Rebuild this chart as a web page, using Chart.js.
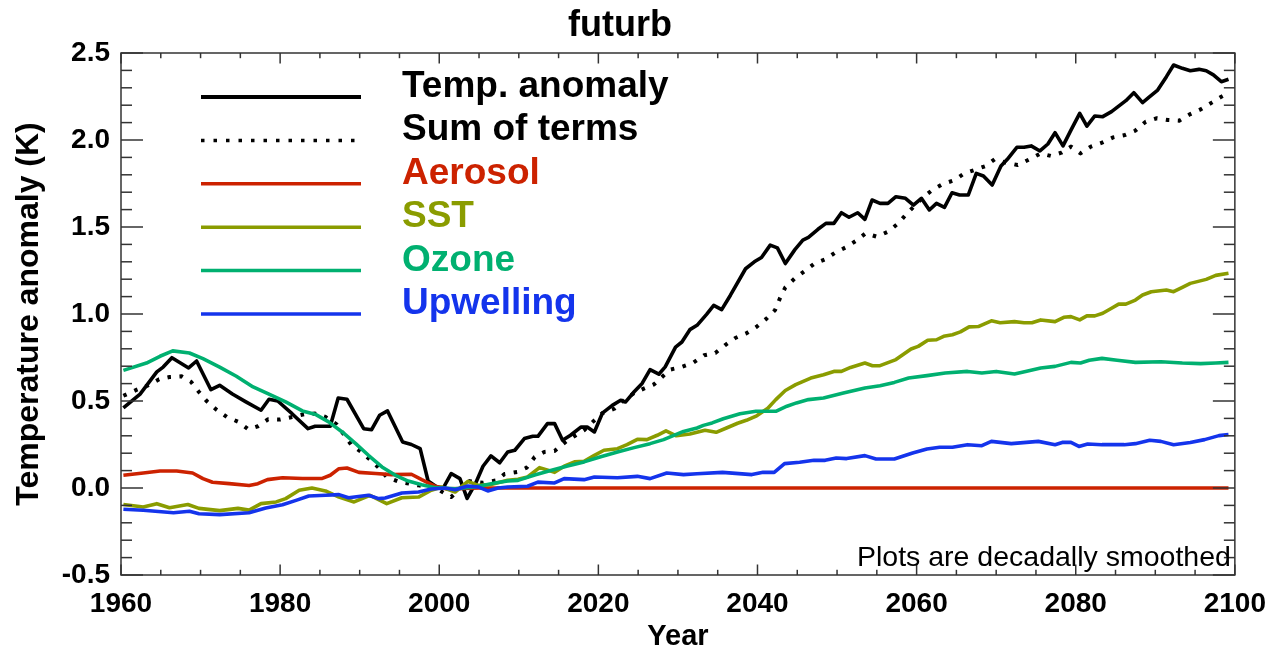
<!DOCTYPE html>
<html><head><meta charset="utf-8">
<script src="https://cdn.jsdelivr.net/npm/chart.js@4.4.1/dist/chart.umd.min.js"></script>
<style>html,body{margin:0;padding:0;background:#fff;}canvas{display:block;}</style>
</head><body>
<canvas id="c" width="1278" height="651"></canvas>
<script>
const FONT = "'Liberation Sans', Arial, Helvetica, sans-serif";
const chartTitle = 'futurb';
const xAxisTitle = 'Year';
const yAxisTitle = 'Temperature anomaly (K)';
const noteText = 'Plots are decadally smoothed';
const xTickLabels = [1960, 1980, 2000, 2020, 2040, 2060, 2080, 2100];
const yTickLabels = [-0.5, 0.0, 0.5, 1.0, 1.5, 2.0, 2.5];
const xMinorStep = 5;
const yMinorStep = 0.1;
const seriesLabels = ['Temp. anomaly', 'Sum of terms', 'Aerosol', 'SST', 'Ozone', 'Upwelling'];

// [year, K]
const tempAnomaly = [[1960.3,0.46],[1962.4,0.54],[1964.5,0.667],[1965.3,0.695],[1966.4,0.749],[1968.5,0.69],[1969.5,0.73],[1971.3,0.565],[1972.4,0.59],[1974,0.54],[1975.7,0.495],[1977.6,0.447],[1978.6,0.51],[1979.7,0.5],[1981.5,0.427],[1983.5,0.341],[1984.4,0.355],[1986.3,0.355],[1987.3,0.517],[1988.4,0.51],[1990.5,0.341],[1991.5,0.335],[1992.5,0.418],[1993.5,0.443],[1995.4,0.264],[1996.5,0.25],[1997.6,0.226],[1998.6,0.04],[1999.7,0.006],[2000.5,0.0],[2001.5,0.083],[2002.6,0.054],[2003.5,-0.06],[2004.6,0.03],[2005.5,0.125],[2006.5,0.185],[2007.6,0.145],[2008.6,0.207],[2009.5,0.217],[2010.7,0.284],[2011.75,0.297],[2012.4,0.297],[2013.6,0.37],[2014.5,0.37],[2015.5,0.274],[2016.5,0.303],[2017.8,0.35],[2018.6,0.35],[2019.5,0.322],[2020.5,0.43],[2021.75,0.475],[2022.8,0.504],[2023.4,0.494],[2024.5,0.553],[2025.5,0.601],[2026.5,0.68],[2027.6,0.654],[2028.4,0.696],[2029.7,0.81],[2030.5,0.839],[2031.5,0.91],[2032.4,0.935],[2033.6,0.998],[2034.5,1.05],[2035.5,1.025],[2036.6,1.108],[2038.5,1.26],[2039.6,1.3],[2040.5,1.325],[2041.6,1.396],[2042.5,1.38],[2043.5,1.29],[2044.7,1.37],[2045.7,1.425],[2046.4,1.441],[2047.6,1.487],[2048.6,1.521],[2049.6,1.521],[2050.55,1.582],[2051.5,1.556],[2052.6,1.582],[2053.5,1.544],[2054.4,1.655],[2055.4,1.636],[2056.4,1.636],[2057.4,1.674],[2058.6,1.665],[2059.6,1.626],[2060.6,1.665],[2061.6,1.598],[2062.5,1.636],[2063.5,1.613],[2064.45,1.697],[2065.4,1.684],[2066.5,1.684],[2067.5,1.808],[2068.4,1.793],[2069.5,1.741],[2070.6,1.851],[2071.4,1.889],[2072.6,1.958],[2073.5,1.958],[2074.4,1.966],[2075.5,1.937],[2076.5,1.977],[2077.4,2.042],[2078.4,1.966],[2079.4,2.057],[2080.5,2.153],[2081.4,2.08],[2082.4,2.138],[2083.4,2.134],[2084.5,2.163],[2085.4,2.195],[2086.3,2.226],[2087.3,2.272],[2088.4,2.215],[2089.3,2.249],[2090.3,2.287],[2091.4,2.364],[2092.3,2.431],[2093.4,2.412],[2094.4,2.398],[2095.5,2.406],[2096.4,2.398],[2097.3,2.374],[2098.3,2.335],[2099.2,2.349]];

const sumOfTerms = [[1960.3,0.53],[1962,0.565],[1963.4,0.59],[1964.8,0.625],[1966.1,0.638],[1967.6,0.642],[1968.8,0.61],[1969.8,0.552],[1970.8,0.498],[1972,0.45],[1973.3,0.408],[1974.8,0.379],[1976,0.337],[1977.2,0.355],[1978.5,0.395],[1980,0.393],[1981.5,0.408],[1983,0.424],[1984.4,0.428],[1985.7,0.408],[1987.1,0.366],[1989,0.245],[1990.2,0.207],[1991.3,0.163],[1992.3,0.121],[1993.4,0.063],[1995,0.035],[1997.4,0.015],[1999.5,0.0],[2001.5,-0.052],[2003.6,0.04],[2005.5,0.03],[2007.2,0.044],[2008.2,0.08],[2009.8,0.092],[2011,0.117],[2012,0.178],[2013.2,0.207],[2014.5,0.213],[2016,0.27],[2018.2,0.332],[2019.3,0.38],[2020.5,0.43],[2022,0.456],[2023.2,0.504],[2024.5,0.546],[2025.7,0.571],[2027,0.596],[2029,0.68],[2030.5,0.696],[2031.9,0.719],[2033.3,0.763],[2034.7,0.776],[2035.9,0.82],[2037.2,0.862],[2038.6,0.889],[2039.9,0.927],[2041.1,0.972],[2042.2,1.022],[2042.8,1.088],[2043.5,1.153],[2044.7,1.205],[2046,1.249],[2047.2,1.291],[2048.5,1.314],[2049.8,1.354],[2051.1,1.383],[2052.4,1.421],[2053.6,1.464],[2055,1.444],[2056.4,1.473],[2057.7,1.521],[2058.8,1.579],[2060.9,1.674],[2062,1.713],[2063.3,1.747],[2064.8,1.77],[2066,1.808],[2067.3,1.828],[2068.7,1.851],[2069.8,1.889],[2071.2,1.87],[2072.7,1.856],[2074.2,1.889],[2075.6,1.923],[2076.9,1.908],[2078.2,1.927],[2079.4,1.962],[2080.6,1.923],[2081.9,1.962],[2083.3,1.985],[2084.7,2.015],[2086.2,2.029],[2087.5,2.054],[2088.8,2.105],[2090.2,2.125],[2091.6,2.115],[2093,2.111],[2094.4,2.149],[2095.7,2.176],[2097.1,2.215],[2098.3,2.249],[2099.2,2.27]];

const aerosol = [[1960.3,0.073],[1962.8,0.086],[1964.9,0.098],[1967,0.098],[1969,0.086],[1970.3,0.054],[1971.5,0.033],[1973.6,0.025],[1976.1,0.014],[1977.2,0.025],[1978.4,0.048],[1980.3,0.059],[1982.8,0.055],[1985.3,0.055],[1986.3,0.073],[1987.4,0.111],[1988.4,0.115],[1989.9,0.09],[1992,0.083],[1994,0.077],[1996.5,0.079],[1997.8,0.048],[1999.5,0.01],[2001,-0.005],[2003,-0.003],[2005,0.0],[2099.2,0.0]];

const sst = [[1960.3,-0.095],[1962.8,-0.109],[1964.5,-0.09],[1966.1,-0.113],[1968.4,-0.095],[1969.8,-0.117],[1972.4,-0.13],[1974.7,-0.117],[1976.1,-0.127],[1977.6,-0.09],[1979.5,-0.08],[1980.7,-0.061],[1982.4,-0.013],[1984,0.0],[1985.7,-0.017],[1987.4,-0.052],[1989.3,-0.08],[1991.3,-0.042],[1993.4,-0.09],[1995.3,-0.056],[1997.4,-0.052],[1999,-0.013],[2000.3,0.006],[2002,-0.023],[2003.6,0.038],[2004.9,0.015],[2006.5,0.02],[2008.6,0.044],[2009.9,0.05],[2011.1,0.063],[2012.6,0.117],[2014.5,0.09],[2015.7,0.125],[2017,0.15],[2018.2,0.153],[2019.5,0.188],[2020.7,0.217],[2022.4,0.226],[2023.6,0.249],[2024.9,0.28],[2026.1,0.278],[2027.4,0.303],[2028.5,0.328],[2029.8,0.3],[2031.5,0.31],[2033.4,0.332],[2034.8,0.32],[2036.1,0.345],[2037.5,0.372],[2038.6,0.389],[2039.9,0.415],[2041.3,0.458],[2042.3,0.508],[2043.5,0.56],[2044.8,0.594],[2046.7,0.632],[2048.3,0.651],[2049.6,0.67],[2050.55,0.67],[2051.7,0.693],[2053.5,0.718],[2054.45,0.703],[2055.4,0.703],[2057.4,0.738],[2059.3,0.799],[2060.2,0.814],[2061.4,0.849],[2062.5,0.852],[2063.4,0.872],[2064.5,0.881],[2065.5,0.897],[2066.6,0.926],[2067.75,0.928],[2069.4,0.961],[2070.5,0.95],[2072.3,0.956],[2073.5,0.95],[2074.5,0.95],[2075.6,0.966],[2077.4,0.956],[2078.5,0.981],[2079.4,0.985],[2080.5,0.966],[2081.4,0.989],[2082.4,0.989],[2083.4,1.004],[2084.5,1.033],[2085.4,1.057],[2086.3,1.057],[2087.5,1.08],[2088.4,1.109],[2089.5,1.128],[2091.4,1.138],[2092.3,1.128],[2093.4,1.153],[2094.4,1.176],[2096.4,1.199],[2097.6,1.222],[2099.2,1.234]];

const ozone = [[1960.3,0.676],[1963.2,0.718],[1964.9,0.757],[1966.5,0.788],[1968.6,0.776],[1970.3,0.743],[1972.4,0.695],[1974.5,0.642],[1976.6,0.581],[1978.6,0.539],[1980.7,0.495],[1982.8,0.443],[1984.5,0.422],[1986.1,0.38],[1987.8,0.322],[1989.5,0.255],[1991.1,0.188],[1992.8,0.121],[1994.5,0.073],[1996.1,0.04],[1997.8,0.019],[1999.5,0.002],[2002,-0.004],[2004.5,0.006],[2007,0.029],[2008.6,0.04],[2009.9,0.044],[2012,0.075],[2014,0.1],[2016,0.125],[2018.2,0.15],[2020.3,0.18],[2022.4,0.207],[2024.5,0.232],[2026.5,0.255],[2028.2,0.278],[2030.7,0.325],[2032.4,0.345],[2033.2,0.36],[2034.3,0.374],[2035.7,0.398],[2037.8,0.427],[2039.8,0.441],[2042.3,0.441],[2043.7,0.47],[2044.9,0.489],[2046.4,0.508],[2048.3,0.517],[2050.8,0.546],[2053.5,0.575],[2055.4,0.588],[2057.2,0.607],[2059,0.632],[2061.3,0.646],[2063.6,0.661],[2066.4,0.67],[2068.2,0.661],[2070,0.67],[2072.3,0.655],[2073.7,0.67],[2075.6,0.69],[2077.4,0.699],[2079.4,0.722],[2080.6,0.718],[2081.7,0.734],[2083.3,0.745],[2085.2,0.734],[2087.5,0.722],[2090.7,0.726],[2093.4,0.718],[2095.7,0.715],[2097.6,0.718],[2099.2,0.722]];

const upwelling = [[1960.3,-0.122],[1962.8,-0.128],[1966.6,-0.142],[1968.6,-0.134],[1969.8,-0.148],[1972.4,-0.153],[1976.1,-0.142],[1978.2,-0.115],[1980.3,-0.096],[1982,-0.071],[1983.6,-0.046],[1985.7,-0.042],[1987.4,-0.038],[1988.6,-0.056],[1991.1,-0.042],[1992.4,-0.061],[1993.2,-0.057],[1995.3,-0.029],[1997.4,-0.023],[1999,-0.006],[2000.7,0.0],[2002,-0.01],[2003.6,0.011],[2004.9,0.006],[2006.1,-0.017],[2007.4,0.0],[2008.6,0.006],[2011.1,0.01],[2012.4,0.034],[2014.5,0.029],[2015.7,0.054],[2018.2,0.048],[2019.5,0.063],[2022.4,0.059],[2024.9,0.067],[2026.5,0.054],[2028.6,0.086],[2030.7,0.077],[2032.4,0.082],[2035.6,0.09],[2039.3,0.077],[2040.7,0.09],[2042.1,0.09],[2043.4,0.14],[2045.3,0.148],[2047.1,0.159],[2048.5,0.159],[2049.9,0.172],[2051.2,0.169],[2053.5,0.186],[2054.9,0.167],[2057.2,0.167],[2059.5,0.201],[2061.3,0.224],[2062.9,0.234],[2064.5,0.234],[2066.4,0.249],[2068.2,0.243],[2069.4,0.268],[2071.9,0.255],[2075.3,0.268],[2077.4,0.249],[2078.3,0.262],[2079.4,0.262],[2080.4,0.239],[2081.5,0.253],[2083.3,0.249],[2086.1,0.249],[2087.5,0.255],[2089.3,0.274],[2090.7,0.268],[2092.3,0.249],[2094.4,0.262],[2096.2,0.278],[2098,0.301],[2099.2,0.307]];

const seriesData = [tempAnomaly, sumOfTerms, aerosol, sst, ozone, upwelling];
const seriesColors = ['#000000', '#000000', '#cc2200', '#8a9c00', '#00b070', '#1434ec'];
const seriesDash = [[], [3.5, 8.5], [], [], [], []];

const toXY = arr => arr.map(p => ({ x: p[0], y: p[1] }));

const datasets = seriesLabels.map((lab, i) => ({
  label: lab,
  data: toXY(seriesData[i]),
  borderColor: seriesColors[i],
  backgroundColor: seriesColors[i],
  borderWidth: i === 1 ? 4 : 3.6,
  borderDash: seriesDash[i],
  borderCapStyle: 'butt',
  borderJoinStyle: 'round',
  pointRadius: 0,
  tension: 0,
  fill: false,
  order: seriesLabels.length - i
}));

const frameAndLegend = {
  id: 'frameAndLegend',
  afterDatasetsDraw(chart) {
    const { ctx, chartArea: a, scales } = chart;
    const xs = scales.x, ys = scales.y;
    ctx.save();
    ctx.strokeStyle = '#333';
    ctx.lineWidth = 1.5;
    ctx.setLineDash([]);
    ctx.strokeRect(a.left, a.top, a.right - a.left, a.bottom - a.top);
    const seg = (x1, y1, x2, y2) => { ctx.beginPath(); ctx.moveTo(x1, y1); ctx.lineTo(x2, y2); ctx.stroke(); };
    for (let yr = xs.min; yr <= xs.max + 1e-9; yr += xMinorStep) {
      const px = xs.getPixelForValue(yr);
      const major = xTickLabels.includes(yr);
      const len = major ? 10.5 : 5.2;
      seg(px, a.bottom, px, a.bottom - len);
      seg(px, a.top, px, a.top + len);
    }
    const nY = Math.round((ys.max - ys.min) / yMinorStep);
    for (let k = 0; k <= nY; k++) {
      const v = ys.min + k * yMinorStep;
      const py = ys.getPixelForValue(v);
      const major = yTickLabels.some(t => Math.abs(t - v) < 1e-6);
      const len = major ? 22 : 11;
      seg(a.left, py, a.left + len, py);
      seg(a.right, py, a.right - len, py);
    }
    // legend
    const lx1 = 201, lx2 = 361, tx = 402, ly0 = 97, dy = 43.4;
    chart.data.datasets.forEach((ds, i) => {
      const ly = ly0 + i * dy;
      ctx.strokeStyle = ds.borderColor;
      ctx.lineWidth = i === 0 ? 4 : 3.5;
      ctx.lineCap = 'butt';
      ctx.setLineDash(i === 1 ? [3.5, 9] : []);
      seg(lx1, ly, lx2, ly);
      ctx.setLineDash([]);
      ctx.fillStyle = ds.borderColor;
      ctx.font = 'bold 37px ' + FONT;
      ctx.textAlign = 'left';
      ctx.textBaseline = 'alphabetic';
      ctx.fillText(ds.label, tx, ly);
    });
    // note
    ctx.fillStyle = '#000';
    ctx.font = '28.5px ' + FONT;
    ctx.textAlign = 'right';
    ctx.textBaseline = 'alphabetic';
    ctx.fillText(noteText, a.right - 4, a.bottom - 9);
    ctx.restore();
  }
};

new Chart(document.getElementById('c'), {
  type: 'line',
  data: { datasets },
  plugins: [frameAndLegend],
  options: {
    responsive: false,
    animation: false,
    devicePixelRatio: 1,
    layout: { padding: { left: 0, right: 38, top: 0, bottom: 0 } },
    plugins: {
      legend: { display: false },
      tooltip: { enabled: false },
      title: {
        display: true, text: chartTitle, color: '#000',
        font: { family: FONT, size: 36, weight: 'bold', lineHeight: 1.2 },
        padding: { top: 4.5, bottom: 5.3 }
      }
    },
    scales: {
      x: {
        type: 'linear', min: 1960, max: 2100,
        grid: { display: false, drawTicks: false },
        border: { display: false },
        afterBuildTicks: s => { s.ticks = xTickLabels.map(v => ({ value: v })); },
        afterFit: s => { s.height = 76; },
        ticks: { color: '#000', font: { family: FONT, size: 28, weight: 'bold' }, padding: 12, maxRotation: 0, autoSkip: false, callback: v => String(v) },
        title: { display: true, text: xAxisTitle, color: '#000', font: { family: FONT, size: 29, weight: 'bold', lineHeight: 1 }, padding: { top: 0, bottom: 0 } }
      },
      y: {
        type: 'linear', min: -0.5, max: 2.5,
        grid: { display: false, drawTicks: false },
        border: { display: false },
        afterBuildTicks: s => { s.ticks = yTickLabels.map(v => ({ value: v })); },
        afterFit: s => { s.width = 121; },
        ticks: { color: '#000', font: { family: FONT, size: 28, weight: 'bold' }, padding: 11, autoSkip: false, callback: v => Number(v).toFixed(1) },
        title: { display: true, text: yAxisTitle, color: '#000', font: { family: FONT, size: 32, weight: 'bold', lineHeight: 1 }, padding: { top: 13, bottom: 0 } }
      }
    }
  }
});
</script>
</body></html>
